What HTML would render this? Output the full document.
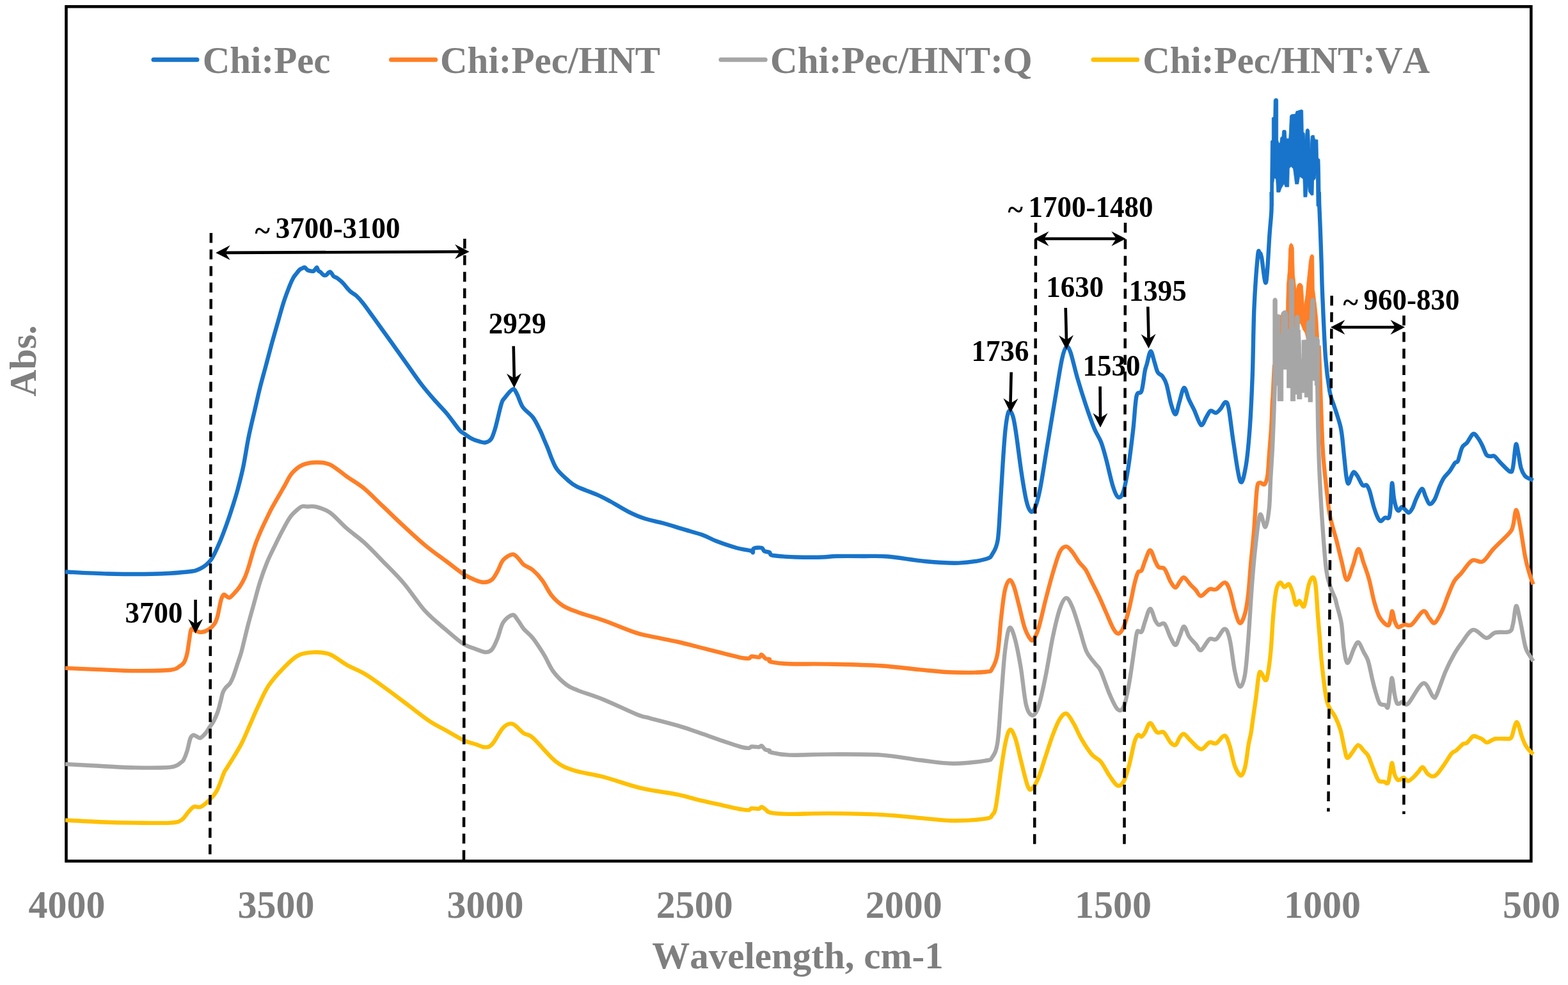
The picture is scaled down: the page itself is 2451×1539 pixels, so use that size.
<!DOCTYPE html>
<html><head><meta charset="utf-8"><title>FTIR</title>
<style>
html,body{margin:0;padding:0;background:#fff;}
svg{display:block;}
.ax{font-family:"Liberation Serif","Times New Roman",serif;font-weight:bold;fill:#7F7F7F;font-kerning:none;}
.an{font-family:"Liberation Serif","Times New Roman",serif;font-weight:bold;fill:#000;font-kerning:none;}
</style></head><body>
<svg width="2451" height="1539" viewBox="0 0 2451 1539">
<rect width="2451" height="1539" fill="#fff"/>
<rect x="103.5" y="10.3" width="2289.8" height="1335.1" fill="none" stroke="#000" stroke-width="4.6"/>
<path d="M102.0,893.5C113.1,894.0 146.2,896.0 168.8,896.5C191.4,897.0 217.0,897.3 237.6,896.8C258.2,896.3 280.0,894.9 292.6,893.5C305.2,892.1 307.0,891.6 313.2,888.4C319.4,885.2 325.1,880.9 330.0,874.3C334.9,867.7 338.7,857.9 342.7,848.9C346.7,839.9 350.2,830.1 353.8,820.3C357.4,810.5 361.1,799.2 364.0,790.0C366.9,780.8 368.8,775.1 371.5,765.0C374.2,754.9 377.3,743.2 380.2,729.5C383.1,715.8 385.6,697.7 388.6,683.0C391.6,668.3 395.1,654.3 398.1,641.4C401.1,628.5 403.4,617.6 406.4,605.7C409.4,593.8 412.8,581.9 416.0,570.0C419.2,558.1 422.3,545.8 425.5,534.3C428.7,522.8 432.0,511.3 435.0,501.0C438.0,490.7 440.3,481.5 443.3,472.4C446.3,463.3 450.4,452.6 452.9,446.2C455.4,439.8 456.7,437.2 458.5,434.0C460.3,430.8 461.9,429.3 463.6,427.1C465.3,424.9 467.3,422.4 468.9,421.0C470.5,419.6 471.9,419.4 473.2,418.9C474.4,418.4 475.2,417.4 476.4,417.8C477.6,418.2 478.9,420.7 480.2,421.6C481.5,422.5 482.5,422.8 484.0,423.2C485.5,423.6 488.0,424.1 489.4,423.8C490.8,423.5 491.1,422.6 492.1,421.6C493.1,420.6 494.4,417.6 495.3,417.8C496.2,418.0 496.5,421.4 497.5,422.7C498.5,424.0 499.9,424.2 501.3,425.4C502.7,426.6 504.2,429.0 505.6,429.7C507.0,430.4 508.5,430.3 509.9,429.7C511.2,429.1 512.6,426.7 513.7,425.9C514.8,425.1 515.5,424.4 516.4,424.8C517.3,425.2 518.2,426.9 519.1,428.1C520.0,429.3 520.4,430.8 521.8,431.9C523.1,433.0 525.4,433.4 527.2,434.6C529.0,435.8 530.8,437.3 532.6,438.9C534.4,440.5 536.2,442.3 538.0,444.3C539.8,446.3 541.7,449.0 543.5,451.0C545.3,453.0 546.8,454.7 549.0,456.5C551.2,458.3 553.9,459.2 556.9,462.0C559.9,464.8 562.9,467.9 567.3,473.4C571.7,478.9 577.9,487.9 583.2,495.2C588.5,502.5 593.0,508.8 599.0,517.1C605.0,525.4 612.3,535.5 618.9,544.8C625.5,554.0 632.1,563.3 638.7,572.6C645.3,581.9 652.0,591.8 658.6,600.4C665.2,609.0 671.8,616.6 678.4,624.2C685.0,631.8 691.7,638.1 698.3,646.0C704.9,653.9 713.5,666.5 718.1,671.8C722.7,677.1 722.7,675.5 726.0,677.8C729.3,680.1 733.9,683.7 737.9,685.7C741.9,687.7 746.5,689.0 750.0,690.0C753.5,691.0 755.8,692.1 758.8,691.4C761.8,690.7 765.2,689.7 767.8,685.8C770.4,681.9 771.9,676.8 774.5,667.8C777.1,658.8 781.2,639.3 783.5,631.8C785.8,624.3 785.0,626.7 788.0,622.8C791.0,618.9 798.1,609.3 801.5,608.2C804.9,607.1 805.7,611.4 808.3,616.1C810.9,620.8 813.2,630.3 817.3,636.3C821.4,642.3 828.5,646.0 833.0,652.0C837.5,658.0 841.4,666.7 844.2,672.3C847.0,677.9 848.0,681.1 850.0,685.7C852.0,690.4 854.1,695.0 856.2,700.2C858.3,705.4 860.1,711.3 862.5,716.8C864.9,722.3 866.6,727.9 870.8,733.4C874.9,738.9 882.2,745.5 887.4,750.0C892.6,754.5 894.3,756.6 901.9,760.4C909.5,764.2 924.5,769.1 933.1,772.9C941.8,776.7 945.5,778.8 953.8,783.3C962.1,787.8 973.9,795.4 982.9,799.9C991.9,804.4 998.8,807.4 1007.8,810.3C1016.8,813.2 1026.9,814.7 1036.9,817.5C1046.9,820.3 1057.6,823.8 1068.0,826.9C1078.4,830.0 1090.5,833.1 1099.2,836.2C1107.9,839.3 1111.2,842.3 1119.9,845.6C1128.6,848.9 1142.1,853.5 1151.1,856.0C1160.1,858.5 1169.6,859.5 1173.9,860.7C1178.2,861.9 1176.3,863.8 1177.0,863.2C1177.7,862.6 1175.8,858.2 1178.1,857.0C1180.3,855.8 1187.7,855.3 1190.5,856.0C1193.3,856.7 1192.6,859.9 1194.7,861.1C1196.8,862.3 1201.1,862.2 1203.0,863.2C1204.9,864.2 1202.6,866.4 1206.1,867.4C1209.6,868.4 1217.4,868.9 1223.8,869.4C1230.2,869.9 1234.1,870.3 1244.5,870.5C1254.9,870.7 1275.6,870.8 1286.0,870.5C1296.4,870.2 1296.1,869.2 1306.8,869.0C1317.5,868.8 1336.5,868.9 1350.0,869.0C1363.5,869.1 1371.6,868.2 1387.6,869.5C1403.6,870.8 1427.3,875.3 1445.8,877.0C1464.3,878.7 1482.8,880.2 1498.7,879.6C1514.6,879.0 1532.2,875.9 1541.0,873.5C1549.8,871.1 1548.5,869.9 1551.6,865.0C1554.7,860.1 1557.6,856.2 1559.6,843.9C1561.6,831.6 1562.2,810.8 1563.5,791.0C1564.8,771.2 1566.2,744.7 1567.5,724.9C1568.8,705.1 1570.0,685.7 1571.5,672.0C1573.0,658.3 1574.8,646.4 1576.8,642.9C1578.8,639.4 1581.4,644.6 1583.4,650.8C1585.4,657.0 1586.5,665.3 1588.7,679.9C1590.9,694.5 1594.0,720.9 1596.6,738.1C1599.2,755.3 1602.1,772.9 1604.5,783.0C1606.9,793.1 1608.9,797.1 1611.1,798.9C1613.3,800.7 1615.4,799.3 1617.8,793.6C1620.2,787.9 1622.6,779.9 1625.7,764.5C1628.8,749.1 1632.3,724.8 1636.3,701.0C1640.3,677.2 1645.5,645.1 1649.5,621.7C1653.5,598.3 1657.2,574.0 1660.1,560.8C1663.0,547.6 1664.5,544.0 1666.7,542.3C1668.9,540.5 1670.4,542.4 1673.3,550.3C1676.2,558.2 1679.9,576.2 1683.9,589.9C1687.9,603.6 1692.7,619.1 1697.1,632.3C1701.5,645.5 1706.4,659.6 1710.4,669.3C1714.4,679.0 1717.9,682.6 1721.0,690.5C1724.1,698.4 1725.8,705.4 1728.9,716.9C1732.0,728.4 1736.4,749.4 1739.5,759.3C1742.6,769.2 1744.8,774.8 1747.4,776.5C1750.1,778.2 1752.8,777.1 1755.4,769.8C1758.1,762.5 1760.7,749.1 1763.3,732.8C1765.9,716.5 1769.0,690.9 1771.2,671.9C1773.4,652.9 1774.3,629.1 1776.5,619.0C1778.7,608.9 1782.2,617.7 1784.4,611.1C1786.6,604.5 1788.3,586.4 1789.7,579.4C1791.1,572.4 1791.2,574.0 1792.7,568.9C1794.2,563.8 1796.7,549.5 1798.6,548.8C1800.5,548.1 1802.5,559.2 1804.3,564.7C1806.1,570.2 1807.5,577.7 1809.6,581.6C1811.7,585.5 1814.7,584.7 1817.0,587.9C1819.3,591.1 1821.1,593.2 1823.4,600.6C1825.7,608.0 1828.4,624.6 1830.8,632.4C1833.2,640.2 1835.5,647.9 1837.6,647.2C1839.7,646.5 1841.3,635.0 1843.5,628.1C1845.7,621.2 1848.4,606.6 1850.9,605.9C1853.4,605.2 1855.7,618.1 1858.3,623.9C1860.9,629.7 1863.6,634.1 1866.8,640.8C1870.0,647.5 1874.2,662.3 1877.4,664.1C1880.6,665.9 1883.3,655.1 1885.8,651.4C1888.3,647.7 1889.7,642.9 1892.2,641.9C1894.7,640.9 1898.0,645.6 1900.6,645.1C1903.2,644.6 1905.5,641.5 1908.0,638.7C1910.5,635.9 1913.3,628.1 1915.4,628.1C1917.5,628.1 1918.6,628.1 1920.7,638.7C1922.8,649.3 1925.1,672.7 1928.1,691.6C1931.1,710.5 1935.5,745.6 1938.7,752.0C1941.9,758.4 1944.7,743.3 1947.2,729.7C1949.7,716.1 1951.7,694.5 1953.5,670.5C1955.3,646.5 1956.6,617.5 1957.8,585.8C1959.0,554.0 1959.1,511.0 1960.5,480.0C1961.9,449.0 1964.6,414.2 1966.0,400.0C1967.4,385.8 1967.9,394.7 1968.9,395.0C1969.9,395.3 1970.3,394.3 1972.0,402.0C1973.7,409.7 1976.9,447.5 1979.0,441.3C1981.1,435.1 1983.2,383.4 1984.6,364.9C1986.0,346.3 1986.9,340.8 1987.4,330.0C1987.9,319.2 1987.6,305.0 1987.6,300.0 M2061.8,300.0C2061.9,303.3 2061.9,311.1 2062.2,320.0C2062.5,328.9 2063.0,338.6 2063.6,353.6C2064.2,368.6 2065.0,392.2 2065.6,409.8C2066.2,427.4 2066.0,434.4 2067.1,459.1C2068.2,483.9 2070.1,532.9 2072.0,558.3C2073.9,583.6 2076.3,598.9 2078.4,611.2C2080.5,623.6 2083.0,626.8 2084.8,632.4C2086.6,638.0 2087.2,639.4 2089.0,645.0C2090.8,650.6 2093.8,659.8 2095.3,666.2C2096.8,672.6 2097.1,675.3 2098.1,683.5C2099.1,691.7 2100.2,705.2 2101.3,715.2C2102.4,725.2 2103.4,737.0 2104.4,743.8C2105.4,750.5 2106.3,755.7 2107.6,755.7C2108.9,755.7 2110.9,746.8 2112.4,743.8C2113.9,740.8 2114.7,737.5 2116.3,737.5C2117.9,737.5 2119.7,740.4 2121.9,743.8C2124.2,747.2 2127.4,755.7 2129.8,758.1C2132.2,760.5 2134.3,756.5 2136.2,758.1C2138.1,759.7 2139.2,762.1 2141.0,767.6C2142.8,773.1 2145.2,784.5 2147.3,791.4C2149.4,798.3 2151.8,805.1 2153.7,808.9C2155.5,812.7 2156.6,814.4 2158.4,814.4C2160.2,814.4 2162.7,809.8 2164.8,808.9C2166.9,808.0 2169.7,811.3 2171.1,808.9C2172.5,806.5 2172.7,803.6 2173.5,794.6C2174.3,785.6 2175.0,757.5 2175.9,754.9C2176.8,752.2 2177.8,772.1 2179.0,778.7C2180.2,785.3 2181.7,791.4 2183.0,794.6C2184.3,797.8 2185.7,798.2 2187.0,797.8C2188.3,797.4 2189.4,792.5 2191.0,792.2C2192.6,791.9 2194.7,794.7 2196.5,796.2C2198.3,797.7 2200.2,801.3 2202.1,801.0C2203.9,800.7 2205.6,798.3 2207.6,794.6C2209.6,790.9 2211.5,783.9 2214.0,778.7C2216.5,773.6 2220.3,764.2 2222.7,763.7C2225.1,763.2 2226.3,771.6 2228.3,775.6C2230.3,779.6 2232.2,786.7 2234.6,787.5C2237.0,788.3 2239.8,784.9 2242.5,780.3C2245.2,775.7 2248.1,765.2 2250.5,759.7C2252.9,754.2 2254.2,751.0 2256.8,747.0C2259.4,743.0 2263.4,739.9 2266.3,735.9C2269.2,731.9 2272.2,725.9 2274.3,723.2C2276.4,720.6 2277.2,724.0 2279.0,720.0C2280.8,716.0 2283.0,704.2 2285.4,699.4C2287.8,694.6 2290.4,695.0 2293.3,691.4C2296.2,687.8 2300.0,678.9 2302.9,677.9C2305.8,676.9 2308.4,682.0 2310.8,685.1C2313.2,688.2 2315.0,692.0 2317.1,696.2C2319.2,700.4 2321.4,707.7 2323.5,710.5C2325.6,713.3 2327.7,712.5 2329.8,712.9C2331.9,713.3 2333.5,711.2 2336.2,712.9C2338.8,714.6 2341.7,719.2 2345.7,723.2C2349.7,727.2 2356.8,735.4 2360.0,736.7C2363.2,738.0 2363.2,738.1 2364.8,731.1C2366.4,724.1 2368.1,698.3 2369.5,694.6C2370.9,690.9 2372.2,702.8 2373.5,708.9C2374.8,715.0 2375.8,725.3 2377.5,731.1C2379.2,736.9 2381.6,741.0 2383.8,743.8C2386.1,746.6 2388.9,746.9 2391.0,748.0C2393.1,749.1 2395.7,750.1 2396.6,750.5" fill="none" stroke="#1874CA" stroke-width="6.4" stroke-linejoin="round" stroke-linecap="butt"/>
<path d="M1985.6,322.0 L1985.8,277.0 L1986.4,220.4 L1988.3,218.5 L1988.3,184.0 L1990.8,182.7 L1991.2,156.5 L1992.5,154.3 L1994.6,153.8 L1996.8,154.3 L1997.7,156.5 L1997.7,219.2 L1999.0,223.6 L2000.8,223.6 L2001.5,215.4 L2004.0,212.9 L2004.6,205.0 L2005.5,203.6 L2007.7,203.3 L2009.8,203.8 L2010.3,205.5 L2010.9,216.7 L2014.7,216.7 L2015.3,207.9 L2016.5,181.0 L2018.4,179.0 L2024.7,178.3 L2026.0,173.9 L2028.5,173.3 L2032.3,172.0 L2034.8,171.4 L2036.7,172.7 L2037.3,206.6 L2039.2,207.9 L2039.8,219.2 L2041.4,203.0 L2043.0,201.2 L2045.2,201.5 L2046.7,204.1 L2048.0,234.2 L2049.2,213.0 L2050.5,211.6 L2054.2,211.6 L2055.5,217.9 L2059.9,218.5 L2060.5,246.8 L2063.0,249.3 L2063.7,274.5 L2064.3,322.0 L2058.0,322.0 L2057.4,272.0 L2056.1,279.5 L2053.6,282.0 L2053.0,304.6 L2049.8,305.2 L2045.4,299.6 L2044.4,288.3 L2042.9,307.8 L2037.9,307.8 L2036.9,279.5 L2031.6,275.7 L2029.7,287.6 L2024.7,287.6 L2022.8,273.2 L2021.6,263.8 L2018.4,260.0 L2015.3,263.1 L2014.7,292.0 L2009.0,292.0 L2007.1,287.0 L2002.7,294.6 L2000.8,300.2 L1995.8,300.2 L1994.6,279.5 L1992.0,278.2 L1990.8,285.8 L1990.2,322.0 Z" fill="#1874CA" stroke="#1874CA" stroke-width="0.8" stroke-linejoin="round"/>
<path d="M102.0,1043.9C110.9,1044.3 137.4,1045.4 155.6,1046.1C173.8,1046.8 192.6,1048.0 211.1,1048.1C229.6,1048.2 255.1,1047.9 266.7,1046.7C278.3,1045.5 277.1,1043.1 280.6,1041.1C284.1,1039.1 285.9,1038.1 287.9,1034.6C289.9,1031.1 291.4,1026.1 292.7,1020.3C294.0,1014.5 294.8,1005.9 295.9,999.7C296.9,993.5 297.4,985.4 299.0,983.0C300.6,980.6 302.8,984.6 305.4,985.4C308.0,986.2 311.5,988.1 314.9,987.8C318.3,987.5 322.6,986.0 326.0,983.8C329.4,981.5 333.3,977.8 335.6,974.3C337.9,970.8 338.8,967.0 340.0,963.0C341.2,959.0 341.7,955.0 342.7,950.5C343.7,946.0 344.7,939.8 345.9,936.2C347.1,932.6 348.5,929.8 349.8,929.0C351.1,928.2 352.3,930.6 353.8,931.4C355.3,932.2 356.8,934.3 358.6,933.8C360.5,933.3 362.3,931.1 364.9,928.3C367.5,925.5 371.5,921.3 374.4,917.1C377.3,912.9 380.0,908.2 382.4,902.9C384.8,897.6 386.6,892.0 388.7,885.4C390.8,878.8 393.2,869.3 395.1,863.2C397.0,857.1 398.0,853.9 399.8,848.9C401.6,843.9 403.6,839.1 406.2,833.0C408.8,826.9 412.5,819.0 415.7,812.4C418.9,805.8 421.5,800.2 425.2,793.3C428.9,786.4 434.7,776.6 437.9,771.1C441.1,765.6 441.2,765.2 444.3,760.0C447.4,754.8 451.4,745.3 456.2,739.7C460.9,734.1 466.4,729.4 472.8,726.5C479.2,723.6 487.1,722.6 494.3,722.5C501.5,722.4 507.8,722.1 515.8,725.8C523.8,729.5 533.4,738.4 542.2,744.6C551.0,750.8 559.3,755.1 568.7,762.8C578.1,770.5 587.9,781.0 598.4,790.9C608.9,800.8 620.5,812.2 631.5,822.4C642.5,832.6 653.6,843.0 664.6,852.1C675.6,861.2 687.7,869.5 697.6,876.9C707.5,884.3 716.4,891.8 724.1,896.8C731.8,901.8 738.4,904.5 744.0,906.7C749.6,908.9 753.3,910.0 757.5,909.8C761.7,909.6 765.7,908.4 769.1,905.5C772.5,902.6 774.9,897.5 777.8,892.4C780.7,887.3 782.7,879.3 786.6,874.9C790.5,870.5 797.2,866.7 801.1,866.2C805.0,865.7 806.9,869.3 809.8,872.0C812.7,874.7 814.7,879.1 818.6,882.2C822.5,885.4 828.2,886.8 833.1,890.9C838.0,895.0 842.9,900.3 847.7,906.9C852.6,913.5 856.9,923.7 862.2,930.2C867.5,936.8 872.9,941.8 879.7,946.2C886.5,950.6 892.3,952.5 903.0,956.4C913.7,960.3 928.7,964.2 943.7,969.5C958.7,974.8 981.1,984.3 993.2,988.4C1005.3,992.5 1005.4,991.8 1016.5,994.2C1027.7,996.6 1047.8,1000.3 1060.1,1003.0C1072.3,1005.7 1078.2,1007.5 1090.0,1010.5C1101.8,1013.5 1119.4,1017.9 1131.0,1020.8C1142.6,1023.7 1153.0,1026.6 1159.7,1027.9C1166.4,1029.2 1168.5,1028.9 1171.0,1028.5C1173.5,1028.1 1172.4,1025.8 1175.0,1025.5C1177.6,1025.2 1183.8,1027.4 1186.4,1026.9C1189.0,1026.5 1188.8,1022.4 1190.5,1022.8C1192.2,1023.1 1194.5,1027.8 1196.6,1029.0C1198.6,1030.2 1201.4,1029.2 1202.8,1030.0C1204.2,1030.8 1199.7,1032.9 1204.8,1034.1C1209.9,1035.3 1218.5,1036.6 1233.5,1037.2C1248.5,1037.8 1271.1,1037.1 1295.0,1037.6C1318.9,1038.1 1353.1,1038.7 1377.0,1040.2C1400.9,1041.7 1419.7,1044.7 1438.5,1046.4C1457.3,1048.1 1472.7,1050.0 1489.8,1050.5C1506.9,1051.0 1530.8,1050.8 1541.0,1049.7C1551.2,1048.7 1548.0,1049.0 1551.1,1044.2C1554.2,1039.4 1557.1,1033.8 1559.4,1020.6C1561.7,1007.4 1563.1,981.2 1565.0,965.0C1566.9,948.8 1568.5,933.0 1570.6,923.3C1572.7,913.6 1575.2,908.1 1577.5,906.7C1579.8,905.3 1581.9,908.5 1584.4,915.0C1587.0,921.5 1590.0,935.0 1592.8,945.6C1595.6,956.2 1598.3,970.4 1601.1,978.9C1603.9,987.4 1607.1,993.4 1609.4,996.9C1611.7,1000.4 1612.7,1002.2 1615.0,999.7C1617.3,997.2 1620.1,992.1 1623.3,981.7C1626.5,971.3 1630.7,951.6 1634.4,937.2C1638.1,922.9 1641.9,908.1 1645.6,895.6C1649.3,883.1 1653.2,869.2 1656.7,862.2C1660.2,855.2 1663.2,853.9 1666.4,853.9C1669.6,853.9 1672.6,858.0 1676.1,862.2C1679.6,866.4 1683.7,874.3 1687.2,878.9C1690.7,883.5 1693.7,884.9 1696.9,890.0C1700.2,895.1 1703.2,902.4 1706.7,909.4C1710.2,916.4 1714.1,923.8 1717.8,931.7C1721.5,939.6 1725.2,948.4 1728.9,956.7C1732.6,965.0 1736.8,976.2 1740.0,981.7C1743.2,987.2 1745.5,990.5 1748.3,990.0C1751.1,989.5 1753.9,985.4 1756.7,978.9C1759.5,972.4 1762.2,962.2 1765.0,951.1C1767.8,940.0 1771.0,921.7 1773.3,912.2C1775.6,902.7 1777.1,897.7 1778.9,894.2C1780.8,890.7 1782.6,894.4 1784.4,891.4C1786.2,888.4 1787.8,881.4 1790.0,876.1C1792.2,870.8 1795.2,859.6 1797.9,859.8C1800.6,859.9 1803.7,872.6 1805.9,877.0C1808.1,881.4 1808.8,884.3 1811.2,886.3C1813.6,888.3 1817.3,885.1 1820.4,888.9C1823.5,892.6 1826.8,903.9 1829.7,908.8C1832.6,913.6 1835.2,918.0 1837.6,918.0C1840.0,918.0 1842.0,911.4 1844.2,908.8C1846.4,906.2 1847.9,901.3 1850.8,902.2C1853.7,903.1 1858.3,910.8 1861.4,914.1C1864.5,917.4 1866.7,919.1 1869.3,922.0C1871.9,924.9 1873.8,931.4 1877.3,931.2C1880.8,931.0 1886.5,922.5 1890.5,920.7C1894.5,919.0 1897.1,922.5 1901.1,920.7C1905.1,918.9 1910.8,909.9 1914.3,910.1C1917.8,910.3 1919.5,914.7 1922.2,922.0C1924.9,929.3 1927.6,945.1 1930.2,953.7C1932.8,962.3 1935.5,972.7 1938.1,973.6C1940.7,974.5 1943.8,966.7 1946.0,959.0C1948.2,951.3 1949.8,940.5 1951.3,927.3C1952.8,914.1 1953.8,895.8 1955.3,879.7C1956.8,863.6 1958.4,849.8 1960.0,830.5C1961.6,811.2 1963.2,776.5 1964.8,763.8C1966.4,751.1 1967.5,755.5 1969.5,754.3C1971.5,753.1 1974.7,758.7 1976.7,756.7C1978.7,754.7 1980.2,750.0 1981.4,742.4C1982.6,734.8 1982.8,724.5 1983.8,711.4C1984.8,698.3 1986.6,677.7 1987.4,663.8C1988.2,649.9 1988.4,635.7 1988.8,628.0C1989.2,620.3 1989.2,627.5 1989.7,617.8C1990.2,608.1 1991.6,578.0 1992.0,570.0 M2061.5,540.0C2061.8,546.4 2062.4,559.8 2063.1,578.1C2063.8,596.4 2064.6,627.8 2065.5,650.0C2066.4,672.2 2066.8,691.2 2068.3,711.4C2069.8,731.6 2072.5,755.1 2074.3,771.0C2076.1,786.9 2076.6,794.8 2079.0,806.7C2081.4,818.6 2085.6,830.9 2088.6,842.4C2091.6,853.9 2094.1,865.4 2096.9,876.0C2099.7,886.6 2102.3,904.9 2105.3,906.0C2108.3,907.1 2112.0,890.8 2115.0,882.8C2118.0,874.8 2120.5,858.3 2123.3,857.8C2126.1,857.3 2128.9,872.1 2131.7,880.0C2134.5,887.9 2137.2,894.8 2140.0,905.0C2142.8,915.2 2145.5,931.1 2148.3,941.1C2151.1,951.1 2153.2,958.7 2156.7,964.7C2160.2,970.7 2166.4,976.7 2169.2,977.2C2172.0,977.8 2172.3,971.7 2173.5,968.0C2174.7,964.3 2175.1,955.0 2176.1,955.0C2177.1,955.0 2178.6,964.8 2179.5,968.0C2180.4,971.2 2180.6,972.4 2181.7,974.4C2182.8,976.4 2183.5,979.8 2185.8,980.0C2188.1,980.2 2192.1,976.5 2195.6,975.8C2199.1,975.1 2201.8,979.3 2206.7,975.8C2211.5,972.3 2220.1,956.6 2224.7,955.0C2229.3,953.4 2231.4,963.1 2234.4,966.1C2237.4,969.1 2239.6,975.0 2242.8,973.1C2246.1,971.2 2250.4,962.2 2253.9,955.0C2257.4,947.8 2260.4,937.9 2263.6,930.0C2266.8,922.1 2269.8,913.6 2273.3,907.8C2276.8,902.0 2279.8,900.6 2284.4,895.3C2289.0,890.0 2295.5,878.8 2301.1,875.8C2306.7,872.8 2312.2,880.2 2317.8,877.2C2323.4,874.2 2327.5,865.2 2334.4,857.8C2341.3,850.4 2354.3,838.8 2359.4,832.8C2364.5,826.8 2363.2,827.7 2365.0,821.7C2366.8,815.7 2368.2,796.7 2370.0,796.7C2371.8,796.7 2373.7,809.2 2376.1,821.7C2378.5,834.2 2381.9,859.2 2384.4,871.7C2386.9,884.2 2389.0,890.1 2391.0,897.0C2393.0,903.9 2395.7,910.3 2396.6,913.0" fill="none" stroke="#FE7F27" stroke-width="6.4" stroke-linejoin="round" stroke-linecap="butt"/>
<path d="M1999.5,560.0 L2000.5,523.0 L2001.0,493.0 L2003.5,491.0 L2010.5,491.0 L2010.8,470.0 L2011.5,444.0 L2013.5,422.0 L2014.6,389.0 L2016.0,382.0 L2018.3,380.0 L2020.5,382.0 L2022.2,387.0 L2023.3,428.5 L2026.1,453.2 L2028.4,444.2 L2031.0,442.5 L2034.0,443.0 L2036.3,446.5 L2038.5,479.0 L2041.3,460.0 L2042.4,446.5 L2046.4,408.3 L2048.0,400.0 L2050.3,397.6 L2052.5,398.5 L2053.7,400.4 L2054.3,451.0 L2057.6,476.9 L2059.9,499.4 L2061.5,527.5 L2062.5,560.0 L2055.0,560.0 L2045.0,540.0 L2040.0,520.0 L2036.8,515.0 L2032.9,505.0 L2028.0,508.0 L2024.0,511.0 L2022.5,511.0 L2015.0,515.0 L2005.0,522.0 L2002.0,522.0 L2000.0,560.0 Z" fill="#FE7F27" stroke="#FE7F27" stroke-width="0.8" stroke-linejoin="round"/>
<path d="M102.0,1193.9C110.9,1194.4 137.4,1195.8 155.6,1196.7C173.8,1197.6 192.6,1199.1 211.1,1199.4C229.6,1199.7 254.7,1200.0 266.7,1198.6C278.7,1197.2 279.8,1193.3 283.3,1191.1C286.8,1188.9 286.3,1188.5 287.9,1185.4C289.5,1182.3 291.1,1178.0 292.7,1172.7C294.3,1167.4 295.9,1157.7 297.5,1153.7C299.1,1149.7 300.6,1149.0 302.2,1148.5C303.8,1148.0 305.1,1149.8 307.0,1150.5C308.9,1151.2 310.9,1153.7 313.3,1152.9C315.7,1152.1 318.9,1148.5 321.3,1145.7C323.7,1142.9 325.5,1139.4 327.6,1136.2C329.7,1133.0 331.9,1130.7 334.0,1126.7C336.1,1122.7 338.4,1117.7 340.3,1112.4C342.2,1107.1 343.8,1099.9 345.1,1094.9C346.4,1089.9 347.0,1085.6 348.3,1082.2C349.6,1078.8 351.1,1076.7 353.0,1074.3C354.9,1071.9 357.5,1070.6 359.4,1067.9C361.2,1065.2 362.2,1063.2 364.1,1058.4C366.0,1053.7 368.4,1045.8 370.5,1039.4C372.6,1033.1 374.9,1026.7 376.8,1020.3C378.7,1013.9 379.8,1008.7 381.6,1001.3C383.5,993.9 385.4,985.4 387.9,975.9C390.4,966.4 393.6,955.0 396.7,944.0C399.8,933.0 402.8,920.8 406.2,910.0C409.6,899.2 413.6,888.1 417.3,879.0C421.0,869.9 424.4,863.4 428.4,855.2C432.4,847.0 436.9,837.7 441.1,829.8C445.3,821.9 449.6,813.4 453.8,807.6C458.0,801.8 463.3,797.7 466.5,794.9C469.7,792.1 470.6,791.6 472.9,791.0C475.1,790.4 476.4,791.4 480.0,791.5C483.6,791.6 488.3,790.3 494.3,791.9C500.3,793.5 507.8,795.3 515.8,800.9C523.8,806.5 533.4,818.0 542.2,825.7C551.0,833.4 559.3,838.7 568.7,847.2C578.1,855.7 587.9,866.1 598.4,876.9C608.9,887.6 620.5,898.7 631.5,911.7C642.5,924.7 653.6,942.6 664.6,954.7C675.6,966.8 687.7,975.9 697.6,984.4C707.5,992.9 716.4,1000.9 724.1,1005.9C731.8,1010.9 738.2,1012.0 744.0,1014.2C749.8,1016.4 754.7,1018.9 758.9,1019.0C763.1,1019.1 766.0,1018.2 769.1,1014.6C772.2,1011.0 774.9,1004.2 777.8,997.2C780.7,990.2 782.7,978.5 786.6,972.4C790.5,966.3 797.2,961.3 801.1,960.8C805.0,960.3 806.9,965.9 809.8,969.5C812.7,973.1 814.7,978.0 818.6,982.6C822.5,987.2 827.8,990.4 833.1,997.2C838.4,1004.0 845.3,1014.7 850.6,1023.4C855.9,1032.1 859.3,1041.8 865.1,1049.5C870.9,1057.2 879.2,1065.1 885.5,1069.9C891.8,1074.8 893.3,1074.7 903.0,1078.6C912.7,1082.5 928.2,1086.9 943.7,1093.2C959.2,1099.5 984.0,1111.7 996.1,1116.5C1008.2,1121.3 1005.8,1119.4 1016.5,1122.3C1027.2,1125.2 1047.8,1130.3 1060.1,1133.9C1072.3,1137.5 1078.2,1139.8 1090.0,1143.8C1101.8,1147.8 1119.4,1154.2 1131.0,1158.1C1142.6,1162.0 1153.0,1165.5 1159.7,1167.3C1166.4,1169.1 1168.5,1168.9 1171.0,1168.8C1173.5,1168.7 1172.4,1166.8 1175.0,1166.5C1177.6,1166.2 1183.8,1167.5 1186.4,1167.3C1189.0,1167.1 1188.8,1164.6 1190.5,1165.3C1192.2,1166.0 1194.5,1170.2 1196.6,1171.4C1198.6,1172.6 1201.4,1171.8 1202.8,1172.5C1204.2,1173.2 1199.7,1174.3 1204.8,1175.5C1209.9,1176.7 1218.5,1179.1 1233.5,1179.6C1248.5,1180.1 1271.1,1178.6 1295.0,1178.6C1318.9,1178.6 1353.1,1178.1 1377.0,1179.6C1400.9,1181.1 1419.7,1185.6 1438.5,1187.8C1457.3,1190.0 1472.9,1192.9 1489.8,1193.0C1506.7,1193.1 1529.8,1190.2 1540.0,1188.6C1550.2,1186.9 1547.9,1188.0 1551.1,1183.1C1554.3,1178.2 1557.1,1174.9 1559.4,1159.4C1561.7,1143.9 1563.1,1113.1 1565.0,1090.0C1566.9,1066.9 1568.5,1038.7 1570.6,1020.6C1572.7,1002.6 1575.0,985.9 1577.5,981.7C1580.0,977.5 1582.8,985.4 1585.8,995.6C1588.8,1005.8 1592.6,1025.2 1595.6,1042.8C1598.6,1060.4 1600.9,1088.6 1603.9,1101.1C1606.9,1113.6 1610.4,1117.3 1613.6,1117.8C1616.8,1118.3 1619.8,1114.1 1623.3,1103.9C1626.8,1093.7 1630.7,1074.8 1634.4,1056.7C1638.1,1038.7 1641.9,1013.2 1645.6,995.6C1649.3,978.0 1653.2,961.3 1656.7,951.1C1660.2,940.9 1663.2,934.9 1666.4,934.4C1669.6,933.9 1672.6,940.4 1676.1,948.3C1679.6,956.2 1683.5,970.1 1687.2,981.7C1690.9,993.3 1694.1,1008.5 1698.3,1017.8C1702.5,1027.0 1708.5,1032.1 1712.2,1037.2C1715.9,1042.3 1716.9,1040.4 1720.6,1048.3C1724.3,1056.2 1730.0,1074.4 1734.4,1084.4C1738.8,1094.4 1743.2,1104.8 1746.9,1108.1C1750.6,1111.3 1753.7,1110.6 1756.7,1103.9C1759.7,1097.2 1762.2,1083.1 1765.0,1067.8C1767.8,1052.5 1771.2,1025.6 1773.3,1012.2C1775.4,998.8 1775.7,991.4 1777.5,987.2C1779.3,983.0 1782.3,990.0 1784.4,987.2C1786.5,984.4 1787.8,976.6 1790.0,970.6C1792.2,964.6 1795.2,951.3 1797.9,951.1C1800.6,950.9 1803.7,965.4 1805.9,969.6C1808.1,973.8 1808.8,975.3 1811.2,976.2C1813.6,977.1 1817.3,971.6 1820.4,974.9C1823.5,978.2 1826.8,990.5 1829.7,996.0C1832.6,1001.5 1835.2,1008.3 1837.6,1007.9C1840.0,1007.5 1842.0,998.2 1844.2,993.4C1846.4,988.6 1848.4,978.7 1850.8,978.9C1853.2,979.1 1855.7,990.1 1858.8,994.7C1861.9,999.3 1866.2,1003.1 1869.3,1006.6C1872.4,1010.1 1873.8,1017.2 1877.3,1015.9C1880.8,1014.6 1886.5,1001.6 1890.5,998.7C1894.5,995.8 1897.1,1001.4 1901.1,998.7C1905.1,996.1 1910.8,982.8 1914.3,982.8C1917.8,982.8 1919.5,987.7 1922.2,998.7C1924.9,1009.7 1927.6,1036.6 1930.2,1048.9C1932.8,1061.2 1935.5,1071.8 1938.1,1072.7C1940.7,1073.6 1943.8,1066.5 1946.0,1054.2C1948.2,1041.9 1949.5,1021.2 1951.3,998.7C1953.1,976.2 1954.8,943.4 1956.6,919.3C1958.4,895.2 1960.2,873.5 1962.4,854.3C1964.6,835.1 1966.9,809.5 1969.5,804.3C1972.1,799.1 1975.5,824.9 1977.9,823.3C1980.3,821.7 1982.4,807.5 1983.8,794.8C1985.2,782.1 1985.2,764.6 1986.2,747.1C1987.2,729.6 1988.4,714.5 1989.5,690.0C1990.6,665.5 1992.2,620.0 1992.8,600.0C1993.4,580.0 1993.0,575.0 1993.0,570.0 M2058.9,570.0C2058.9,575.0 2059.0,585.0 2059.2,600.0C2059.4,615.0 2059.6,637.3 2060.1,659.8C2060.6,682.3 2061.2,708.7 2062.4,735.2C2063.6,761.7 2065.3,792.8 2067.1,818.6C2068.9,844.4 2070.9,873.4 2073.1,890.0C2075.2,906.6 2077.7,910.5 2080.0,918.0C2082.3,925.5 2085.3,930.2 2087.0,935.0C2088.7,939.8 2088.3,940.1 2090.0,946.7C2091.7,953.3 2095.2,963.6 2096.9,974.4C2098.7,985.2 2098.9,1001.5 2100.5,1011.7C2102.1,1021.9 2103.7,1035.5 2106.3,1035.8C2109.0,1036.1 2113.6,1018.7 2116.4,1013.3C2119.2,1007.9 2120.8,1002.7 2123.3,1003.6C2125.9,1004.5 2129.1,1014.0 2131.7,1018.9C2134.2,1023.8 2136.3,1025.4 2138.6,1032.8C2140.9,1040.2 2143.6,1055.2 2145.6,1063.3C2147.6,1071.4 2148.6,1075.6 2150.5,1081.6C2152.4,1087.5 2154.3,1095.7 2156.8,1099.0C2159.3,1102.3 2163.2,1100.7 2165.3,1101.7C2167.4,1102.7 2168.3,1108.2 2169.5,1104.9C2170.7,1101.6 2171.6,1089.2 2172.7,1081.6C2173.8,1074.0 2174.7,1058.7 2175.9,1059.4C2177.1,1060.1 2178.7,1079.1 2180.1,1085.8C2181.5,1092.5 2182.2,1097.8 2184.3,1099.6C2186.4,1101.4 2190.0,1096.4 2192.8,1096.4C2195.6,1096.4 2195.8,1104.2 2201.1,1099.4C2206.4,1094.6 2218.2,1069.3 2224.7,1067.5C2231.2,1065.7 2236.5,1085.3 2240.0,1088.3C2243.5,1091.3 2242.4,1092.1 2245.6,1085.6C2248.8,1079.1 2254.8,1060.1 2259.4,1049.4C2264.0,1038.8 2269.1,1029.1 2273.3,1021.7C2277.5,1014.3 2279.5,1011.2 2284.4,1005.0C2289.3,998.8 2296.0,985.6 2302.5,984.2C2309.0,982.8 2317.5,996.0 2323.3,996.7C2329.1,997.4 2331.2,989.9 2337.2,988.3C2343.2,986.7 2354.8,989.1 2359.4,986.9C2364.0,984.7 2363.2,981.7 2365.0,975.0C2366.8,968.3 2368.2,947.7 2370.0,946.7C2371.8,945.7 2373.7,958.2 2376.1,968.9C2378.5,979.5 2381.9,1001.4 2384.4,1010.6C2386.9,1019.8 2389.0,1020.3 2391.0,1024.0C2393.0,1027.7 2395.7,1031.5 2396.6,1033.0" fill="none" stroke="#A6A6A6" stroke-width="6.4" stroke-linejoin="round" stroke-linecap="butt"/>
<path d="M1989.8,602.0 L1989.8,469.0 L1990.8,466.5 L1993.1,465.5 L1995.4,466.5 L1996.4,469.0 L1996.4,491.0 L2000.7,492.0 L2000.7,522.0 L2002.2,522.0 L2002.9,489.0 L2005.5,486.0 L2009.4,485.0 L2012.0,486.5 L2013.1,491.0 L2013.1,514.0 L2015.3,514.0 L2015.3,440.0 L2016.5,436.5 L2018.9,435.3 L2021.3,436.5 L2022.5,440.0 L2022.5,511.6 L2024.0,511.6 L2024.0,496.0 L2025.5,493.0 L2027.6,492.0 L2029.8,493.0 L2031.3,496.0 L2031.3,514.5 L2032.5,516.0 L2034.2,561.0 L2035.0,561.0 L2035.0,531.5 L2042.0,531.0 L2042.2,505.0 L2043.5,501.5 L2047.0,500.7 L2048.7,470.0 L2049.8,466.5 L2052.0,465.8 L2054.2,466.5 L2055.2,470.0 L2055.2,526.0 L2060.0,527.0 L2062.5,531.0 L2062.5,602.0 L2055.2,602.0 L2055.2,594.5 L2051.6,594.5 L2051.6,628.0 L2045.0,628.0 L2045.0,620.6 L2039.2,620.6 L2039.2,613.4 L2034.9,613.4 L2034.9,623.5 L2027.6,623.5 L2027.6,616.0 L2024.7,616.0 L2024.7,626.5 L2017.4,626.5 L2017.4,606.0 L2011.6,606.0 L2011.6,577.0 L2005.8,577.0 L2005.8,626.5 L1997.1,626.5 L1997.1,602.0 Z" fill="#A6A6A6" stroke="#A6A6A6" stroke-width="0.8" stroke-linejoin="round"/>
<path d="M102.0,1281.4C110.9,1281.9 137.4,1283.5 155.6,1284.2C173.8,1284.9 192.6,1285.4 211.1,1285.6C229.6,1285.8 254.7,1286.3 266.7,1285.6C278.7,1284.9 278.7,1284.2 283.3,1281.4C287.9,1278.6 291.1,1272.4 294.4,1268.9C297.6,1265.4 299.6,1262.0 302.8,1260.6C306.1,1259.2 309.7,1262.5 313.9,1260.6C318.1,1258.7 323.6,1253.6 327.8,1249.4C332.0,1245.2 335.2,1242.5 338.9,1235.6C342.6,1228.7 347.4,1213.7 350.0,1207.8C352.6,1201.9 352.0,1204.3 354.6,1200.0C357.2,1195.7 361.7,1188.9 365.7,1182.2C369.7,1175.5 374.2,1168.5 378.4,1160.0C382.6,1151.5 386.9,1140.9 391.1,1131.4C395.3,1121.9 399.0,1113.0 403.8,1102.9C408.6,1092.9 413.5,1080.9 420.0,1071.1C426.5,1061.3 435.3,1051.7 443.0,1043.9C450.7,1036.1 458.1,1028.2 466.1,1024.1C474.1,1020.0 482.6,1019.4 490.9,1019.1C499.2,1018.8 507.2,1019.2 515.8,1022.5C524.3,1025.8 532.8,1033.8 542.2,1039.0C551.6,1044.2 561.5,1047.6 572.0,1053.9C582.5,1060.2 594.0,1069.0 605.0,1077.0C616.0,1085.0 627.1,1093.5 638.1,1101.8C649.1,1110.1 661.3,1120.0 671.2,1126.6C681.1,1133.2 688.8,1136.5 697.6,1141.5C706.4,1146.5 716.4,1152.8 724.1,1156.4C731.8,1160.0 738.4,1161.2 744.0,1163.0C749.6,1164.8 753.3,1167.4 757.5,1167.4C761.7,1167.4 764.2,1168.1 769.1,1163.0C774.0,1157.9 781.3,1142.2 786.6,1136.9C791.9,1131.6 795.8,1129.5 801.1,1131.0C806.4,1132.5 813.3,1141.9 818.6,1145.6C823.9,1149.2 824.9,1145.6 833.1,1152.9C841.4,1160.2 857.4,1180.7 868.1,1189.2C878.8,1197.7 884.6,1199.7 897.2,1203.8C909.8,1207.9 926.2,1209.4 943.7,1214.0C961.2,1218.6 982.5,1226.8 1001.9,1231.4C1021.3,1236.0 1045.4,1238.6 1060.1,1241.6C1074.8,1244.6 1078.2,1246.6 1090.0,1249.4C1101.8,1252.2 1119.4,1256.0 1131.0,1258.6C1142.6,1261.1 1153.0,1263.5 1159.7,1264.7C1166.4,1265.9 1168.5,1265.8 1171.0,1265.5C1173.5,1265.2 1172.4,1263.3 1175.0,1263.0C1177.6,1262.7 1183.8,1264.1 1186.4,1263.7C1189.0,1263.3 1188.8,1260.4 1190.5,1260.6C1192.2,1260.8 1194.2,1263.2 1196.6,1264.7C1199.0,1266.2 1198.6,1268.7 1204.8,1269.9C1211.0,1271.1 1218.5,1271.7 1233.5,1271.9C1248.5,1272.1 1271.1,1270.7 1295.0,1270.9C1318.9,1271.1 1353.1,1271.7 1377.0,1272.9C1400.9,1274.1 1419.7,1276.5 1438.5,1278.1C1457.3,1279.6 1472.7,1282.0 1489.8,1282.2C1506.9,1282.4 1530.8,1280.6 1541.0,1279.1C1551.2,1277.5 1548.7,1276.1 1551.3,1272.9C1553.9,1269.7 1554.4,1272.0 1556.7,1260.0C1559.0,1248.0 1562.5,1217.9 1565.0,1201.1C1567.5,1184.3 1569.6,1169.6 1571.9,1159.4C1574.2,1149.2 1576.4,1140.9 1578.9,1140.0C1581.5,1139.1 1584.4,1146.0 1587.2,1153.9C1590.0,1161.8 1592.3,1174.7 1595.6,1187.2C1598.8,1199.7 1603.7,1221.5 1606.7,1228.9C1609.7,1236.3 1610.8,1234.0 1613.6,1231.7C1616.4,1229.4 1619.8,1223.3 1623.3,1215.0C1626.8,1206.7 1630.7,1192.8 1634.4,1181.7C1638.1,1170.6 1641.9,1158.0 1645.6,1148.3C1649.3,1138.6 1653.1,1128.8 1656.7,1123.3C1660.3,1117.8 1663.5,1113.6 1667.2,1115.0C1670.9,1116.4 1675.1,1125.2 1678.9,1131.7C1682.7,1138.2 1685.4,1146.0 1690.0,1153.9C1694.6,1161.8 1701.6,1172.9 1706.7,1178.9C1711.8,1184.9 1716.0,1184.5 1720.6,1190.0C1725.2,1195.5 1730.0,1206.0 1734.4,1212.2C1738.8,1218.5 1743.2,1226.1 1746.9,1227.5C1750.6,1228.9 1753.7,1225.9 1756.7,1220.6C1759.7,1215.3 1762.2,1205.8 1765.0,1195.6C1767.8,1185.4 1771.0,1167.3 1773.3,1159.4C1775.6,1151.5 1777.1,1149.7 1778.9,1148.3C1780.8,1146.9 1782.6,1151.8 1784.4,1151.1C1786.2,1150.4 1787.8,1147.8 1790.0,1144.2C1792.2,1140.6 1794.8,1129.6 1797.9,1129.6C1801.0,1129.6 1805.0,1141.8 1808.5,1144.2C1812.0,1146.6 1815.6,1141.6 1819.1,1144.2C1822.6,1146.8 1826.6,1156.7 1829.7,1160.0C1832.8,1163.3 1835.2,1165.3 1837.6,1164.0C1840.0,1162.7 1842.0,1155.0 1844.2,1152.1C1846.4,1149.2 1847.9,1145.9 1850.8,1146.8C1853.7,1147.7 1857.0,1153.4 1861.4,1157.4C1865.8,1161.4 1872.5,1170.2 1877.3,1170.6C1882.1,1171.0 1886.5,1161.5 1890.5,1160.0C1894.5,1158.5 1897.1,1163.1 1901.1,1161.3C1905.1,1159.5 1910.8,1148.7 1914.3,1149.4C1917.8,1150.1 1919.5,1157.4 1922.2,1165.3C1924.9,1173.2 1927.2,1189.3 1930.2,1197.0C1933.2,1204.7 1937.2,1211.7 1939.9,1211.7C1942.6,1211.7 1944.6,1204.9 1946.6,1196.9C1948.5,1188.9 1950.1,1172.5 1951.6,1163.8C1953.1,1155.1 1954.4,1151.5 1955.5,1145.0C1956.6,1138.5 1957.0,1134.2 1958.3,1125.0C1959.6,1115.8 1961.9,1100.5 1963.3,1090.0C1964.7,1079.5 1965.7,1068.6 1966.6,1062.0C1967.5,1055.4 1967.9,1052.2 1968.8,1050.5C1969.7,1048.8 1970.4,1049.9 1972.0,1052.0C1973.6,1054.1 1976.6,1062.9 1978.3,1062.9C1980.0,1062.9 1980.6,1060.0 1982.0,1052.0C1983.4,1044.0 1985.3,1029.5 1986.6,1015.0C1987.9,1000.5 1988.9,978.8 1990.0,965.0C1991.1,951.2 1992.2,940.2 1993.3,932.0C1994.4,923.8 1995.2,919.6 1996.6,916.0C1998.0,912.4 1999.9,910.0 2001.7,910.2C2003.5,910.4 2005.4,917.0 2007.6,917.4C2009.8,917.8 2012.6,911.2 2014.8,912.6C2017.0,914.0 2018.9,920.3 2020.7,925.7C2022.5,931.1 2023.7,942.6 2025.5,944.8C2027.3,947.0 2029.2,938.4 2031.4,938.8C2033.6,939.2 2036.2,951.3 2038.6,947.1C2041.0,942.9 2043.5,921.3 2045.7,913.8C2047.9,906.3 2049.9,901.9 2051.7,901.9C2053.5,901.9 2055.0,903.9 2056.4,913.8C2057.8,923.7 2058.9,947.0 2060.0,961.4C2061.1,975.8 2062.2,988.1 2063.2,1000.0C2064.2,1011.9 2064.3,1018.6 2065.8,1032.9C2067.3,1047.2 2070.2,1073.8 2072.2,1085.8C2074.1,1097.8 2075.0,1099.2 2077.5,1104.9C2080.0,1110.6 2084.0,1113.7 2087.0,1119.7C2090.0,1125.7 2092.9,1132.3 2095.4,1140.8C2097.9,1149.3 2100.0,1163.3 2101.8,1170.5C2103.6,1177.7 2103.9,1183.5 2106.0,1184.2C2108.1,1184.9 2111.7,1178.1 2114.5,1174.7C2117.3,1171.3 2120.2,1164.4 2123.0,1164.1C2125.8,1163.8 2128.8,1169.8 2131.4,1172.6C2134.0,1175.4 2136.3,1176.5 2138.8,1181.1C2141.3,1185.7 2143.5,1193.8 2146.2,1200.1C2148.8,1206.4 2151.9,1215.7 2154.7,1219.2C2157.5,1222.7 2160.7,1220.6 2163.2,1221.3C2165.7,1222.0 2167.9,1225.5 2169.5,1223.4C2171.1,1221.3 2171.6,1213.8 2172.7,1208.6C2173.8,1203.4 2174.8,1192.0 2175.9,1192.0C2177.0,1192.0 2178.1,1204.2 2179.5,1208.6C2180.9,1212.9 2182.7,1216.5 2184.3,1218.1C2185.9,1219.6 2187.7,1218.4 2189.3,1217.9C2190.9,1217.4 2192.0,1214.5 2194.0,1214.9C2196.0,1215.3 2198.6,1220.3 2201.2,1220.2C2203.8,1220.1 2206.9,1216.6 2209.5,1214.3C2212.1,1212.0 2214.3,1209.1 2216.7,1206.5C2219.1,1203.9 2221.4,1198.5 2223.8,1198.8C2226.2,1199.1 2228.4,1205.9 2231.0,1208.3C2233.6,1210.7 2236.7,1212.9 2239.3,1213.1C2241.9,1213.3 2243.4,1212.5 2246.4,1209.5C2249.4,1206.5 2253.3,1200.5 2257.1,1195.2C2260.9,1189.9 2265.8,1181.2 2269.0,1177.4C2272.2,1173.6 2273.2,1175.1 2276.2,1172.6C2279.2,1170.1 2284.1,1164.5 2286.9,1162.5C2289.7,1160.5 2290.3,1162.7 2292.9,1160.7C2295.5,1158.7 2299.8,1152.2 2302.4,1150.6C2305.0,1149.0 2305.9,1150.5 2308.3,1151.2C2310.7,1151.9 2314.1,1153.3 2316.7,1154.8C2319.3,1156.3 2321.2,1159.8 2323.8,1160.1C2326.4,1160.4 2329.7,1157.5 2332.1,1156.5C2334.5,1155.5 2334.7,1154.6 2338.1,1154.2C2341.5,1153.8 2348.4,1154.4 2352.4,1154.2C2356.4,1154.0 2359.5,1155.7 2361.9,1153.0C2364.3,1150.3 2365.3,1142.2 2366.7,1138.1C2368.1,1134.0 2369.0,1129.4 2370.2,1128.6C2371.4,1127.8 2372.4,1129.7 2373.8,1133.3C2375.2,1136.9 2376.8,1144.8 2378.6,1150.0C2380.4,1155.2 2382.4,1160.5 2384.5,1164.3C2386.6,1168.1 2389.0,1170.6 2391.0,1173.0C2393.0,1175.4 2395.7,1177.6 2396.6,1178.5" fill="none" stroke="#FEC000" stroke-width="6.4" stroke-linejoin="round" stroke-linecap="butt"/>
<line x1="329.9" y1="364.0" x2="328.3" y2="1335.0" stroke="#000" stroke-width="4.5" stroke-dasharray="15.5 10.32"/>
<line x1="726.4" y1="373.0" x2="725.0" y2="1345.0" stroke="#000" stroke-width="4.5" stroke-dasharray="15.5 10.32"/>
<line x1="1619.0" y1="348.0" x2="1617.2" y2="1319.0" stroke="#000" stroke-width="4.5" stroke-dasharray="15.5 10.32"/>
<line x1="1759.0" y1="348.0" x2="1757.5" y2="1319.0" stroke="#000" stroke-width="4.5" stroke-dasharray="15.5 10.32"/>
<line x1="2081.7" y1="462.0" x2="2076.4" y2="1268.0" stroke="#000" stroke-width="4.5" stroke-dasharray="15.5 10.32"/>
<line x1="2194.5" y1="493.0" x2="2194.4" y2="1272.0" stroke="#000" stroke-width="4.5" stroke-dasharray="15.5 10.32"/>
<line x1="352.2" y1="394.9" x2="718.6" y2="393.2" stroke="#000" stroke-width="4.6"/>
<path d="M337.2,394.9 L359.7,383.3 L352.2,394.8 L359.7,406.3 Z" fill="#000"/>
<path d="M733.6,393.2 L711.1,404.8 L718.6,393.3 L711.1,381.8 Z" fill="#000"/>
<line x1="1632.0" y1="373.0" x2="1744.8" y2="373.0" stroke="#000" stroke-width="4.6"/>
<path d="M1617.0,373.0 L1639.5,361.5 L1632.0,373.0 L1639.5,384.5 Z" fill="#000"/>
<path d="M1759.8,373.0 L1737.3,384.5 L1744.8,373.0 L1737.3,361.5 Z" fill="#000"/>
<line x1="2094.9" y1="511.3" x2="2181.0" y2="511.3" stroke="#000" stroke-width="4.6"/>
<path d="M2079.9,511.3 L2102.4,499.8 L2094.9,511.3 L2102.4,522.8 Z" fill="#000"/>
<path d="M2196.0,511.3 L2173.5,522.8 L2181.0,511.3 L2173.5,499.8 Z" fill="#000"/>
<line x1="802.7" y1="540.8" x2="803.8" y2="591.0" stroke="#000" stroke-width="4.6"/>
<path d="M803.8,606.0 L791.9,583.7 L803.5,591.0 L814.9,583.3 Z" fill="#000"/>
<line x1="1580.7" y1="581.5" x2="1579.5" y2="630.0" stroke="#000" stroke-width="4.6"/>
<path d="M1579.5,645.0 L1568.4,622.3 L1579.8,630.0 L1591.4,622.7 Z" fill="#000"/>
<line x1="1665.7" y1="481.0" x2="1667.0" y2="531.3" stroke="#000" stroke-width="4.6"/>
<path d="M1667.0,546.3 L1655.1,524.0 L1666.7,531.3 L1678.0,523.6 Z" fill="#000"/>
<line x1="1719.6" y1="603.7" x2="1720.0" y2="653.0" stroke="#000" stroke-width="4.6"/>
<path d="M1720.0,668.0 L1708.4,645.6 L1719.9,653.0 L1731.4,645.4 Z" fill="#000"/>
<line x1="1794.3" y1="479.3" x2="1795.5" y2="529.5" stroke="#000" stroke-width="4.6"/>
<path d="M1795.5,544.5 L1783.6,522.2 L1795.2,529.5 L1806.6,521.8 Z" fill="#000"/>
<line x1="305.6" y1="937.0" x2="305.6" y2="974.7" stroke="#000" stroke-width="4.6"/>
<path d="M305.6,989.7 L294.1,967.2 L305.6,974.7 L317.1,967.2 Z" fill="#000"/>
<line x1="240.0" y1="93.3" x2="308.0" y2="93.3" stroke="#1874CA" stroke-width="7" stroke-linecap="round"/>
<text class="ax" x="316.7" y="113.8" font-size="59">Chi:Pec</text>
<line x1="611.5" y1="93.3" x2="680.7" y2="93.3" stroke="#FE7F27" stroke-width="7" stroke-linecap="round"/>
<text class="ax" x="688.0" y="113.8" font-size="59">Chi:Pec/HNT</text>
<line x1="1126.9" y1="93.3" x2="1196.2" y2="93.3" stroke="#A6A6A6" stroke-width="7" stroke-linecap="round"/>
<text class="ax" x="1204.1" y="113.8" font-size="59">Chi:Pec/HNT:Q</text>
<line x1="1709.0" y1="93.3" x2="1777.7" y2="93.3" stroke="#FEC000" stroke-width="7" stroke-linecap="round"/>
<text class="ax" x="1786.2" y="113.8" font-size="59">Chi:Pec/HNT:VA</text>
<text class="ax" transform="translate(104.5,1434) scale(1,1.03)" font-size="60" text-anchor="middle">4000</text>
<text class="ax" transform="translate(431.6,1434) scale(1,1.03)" font-size="60" text-anchor="middle">3500</text>
<text class="ax" transform="translate(758.6,1434) scale(1,1.03)" font-size="60" text-anchor="middle">3000</text>
<text class="ax" transform="translate(1085.7,1434) scale(1,1.03)" font-size="60" text-anchor="middle">2500</text>
<text class="ax" transform="translate(1412.8,1434) scale(1,1.03)" font-size="60" text-anchor="middle">2000</text>
<text class="ax" transform="translate(1739.9,1434) scale(1,1.03)" font-size="60" text-anchor="middle">1500</text>
<text class="ax" transform="translate(2066.9,1434) scale(1,1.03)" font-size="60" text-anchor="middle">1000</text>
<text class="ax" transform="translate(2394.0,1434) scale(1,1.03)" font-size="60" text-anchor="middle">500</text>
<text class="ax" x="1247" y="1512.6" font-size="59" text-anchor="middle">Wavelength, cm-1</text>
<text class="ax" transform="translate(55.8,563.8) rotate(-90) scale(0.968,1)" x="0" y="0" font-size="60" text-anchor="middle">Abs.</text>
<text class="an" transform="translate(398.5,371.6) scale(1,1.045)" font-size="45"><tspan dy="4">~</tspan><tspan dy="-4" dx="-2.5"> 3700-3100</tspan></text>
<text class="an" transform="translate(763.8,521.2) scale(1,1.045)" font-size="45">2929</text>
<text class="an" transform="translate(1518.5,563.5) scale(1,1.045)" font-size="45">1736</text>
<text class="an" transform="translate(1692.6,586.5) scale(1,1.045)" font-size="45">1530</text>
<text class="an" transform="translate(1575.4,339.1) scale(1,1.045)" font-size="45"><tspan dy="4">~</tspan><tspan dy="-4" dx="-2.5"> 1700-1480</tspan></text>
<text class="an" transform="translate(1635.3,464.1) scale(1,1.045)" font-size="45">1630</text>
<text class="an" transform="translate(1764.8,470.4) scale(1,1.045)" font-size="45">1395</text>
<text class="an" transform="translate(2099.4,483.9) scale(1,1.045)" font-size="45"><tspan dy="4">~</tspan><tspan dy="-4" dx="-2.5"> 960-830</tspan></text>
<text class="an" transform="translate(195.4,972.5) scale(1,1.045)" font-size="45">3700</text>
</svg>
</body></html>
